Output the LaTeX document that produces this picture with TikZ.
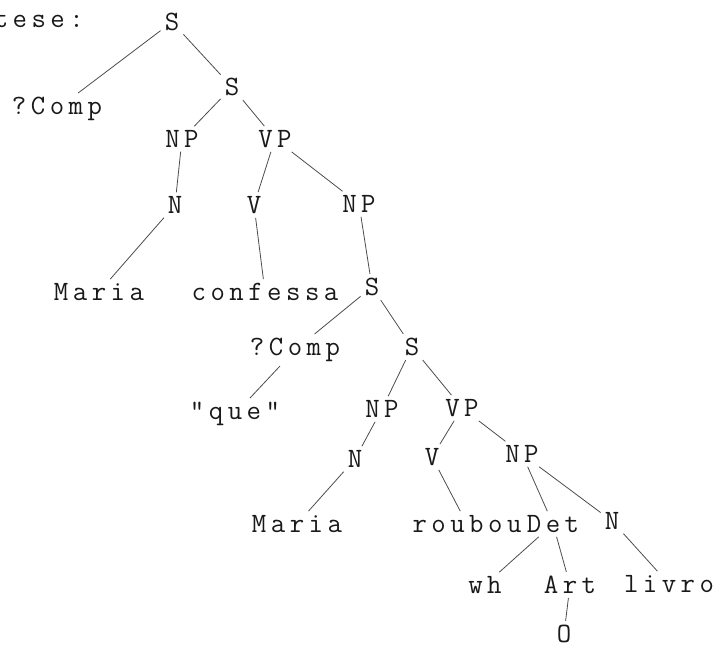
\documentclass[tikz,border=0pt]{standalone}
\usepackage{fontspec}
\newfontfamily\twfont[LetterSpace=16]{Latin Modern Mono}
\begin{document}
\begin{tikzpicture}[x=1pt,y=-1pt,
  lab/.style={font=\twfont\fontsize{28}{28}\selectfont, text=black!90, inner sep=4pt},
  edge/.style={draw=black!70, line width=0.8pt}]
\useasboundingbox (0,0) rectangle (719,648);
\node[lab, anchor=east] (hdr) at (88,20) {tese:};
\node[lab] (S0) at (172,22) {S};
\node[lab] (C1) at (57,109) {?Comp};
\node[lab] (S1) at (232,87) {S};
\node[lab] (NP1) at (182,139) {NP};
\node[lab] (VP1) at (275,139) {VP};
\node[lab] (N1) at (175,205) {N};
\node[lab] (V1) at (254,205) {V};
\node[lab] (NP2) at (359,204) {NP};
\node[lab] (Ma1) at (99,292) {Maria};
\node[lab] (conf) at (265,292) {confessa};
\node[lab] (S3) at (372,287) {S};
\node[lab] (C2) at (295,350) {?Comp};
\node[lab] (S4) at (412,347) {S};
\node[lab] (que) at (235,414) {"que"};
\node[lab] (NP3) at (382,409) {NP};
\node[lab] (VP2) at (462,408) {VP};
\node[lab] (N2) at (355,459) {N};
\node[lab] (V2) at (432,457) {V};
\node[lab] (NP4) at (522,454) {NP};
\node[lab] (Ma2) at (297,524) {Maria};
\node[lab] (rou) at (467,524) {roubou};
\node[lab] (Det) at (553,524) {Det};
\node[lab] (N3) at (612,521) {N};
\node[lab] (wh) at (485,585) {wh};
\node[lab] (Art) at (570,585) {Art};
\node[lab] (liv) at (669,584) {livro};
\node[lab] (O) at (564,634) {O};
\draw[edge] (S0) -- (C1);
\draw[edge] (S0) -- (S1);
\draw[edge] (S1) -- (NP1);
\draw[edge] (S1) -- (VP1);
\draw[edge] (NP1) -- (N1);
\draw[edge] (VP1) -- (V1);
\draw[edge] (VP1) -- (NP2);
\draw[edge] (N1) -- (Ma1);
\draw[edge] (V1) -- (conf);
\draw[edge] (NP2) -- (S3);
\draw[edge] (S3) -- (C2);
\draw[edge] (S3) -- (S4);
\draw[edge] (C2) -- (que);
\draw[edge] (S4) -- (NP3);
\draw[edge] (S4) -- (VP2);
\draw[edge] (NP3) -- (N2);
\draw[edge] (VP2) -- (V2);
\draw[edge] (VP2) -- (NP4);
\draw[edge] (N2) -- (Ma2);
\draw[edge] (V2) -- (rou);
\draw[edge] (NP4) -- (Det);
\draw[edge] (NP4) -- (N3);
\draw[edge] (Det) -- (wh);
\draw[edge] (Det) -- (Art);
\draw[edge] (N3) -- (liv);
\draw[edge] (Art) -- (O);
\end{tikzpicture}
\end{document}
